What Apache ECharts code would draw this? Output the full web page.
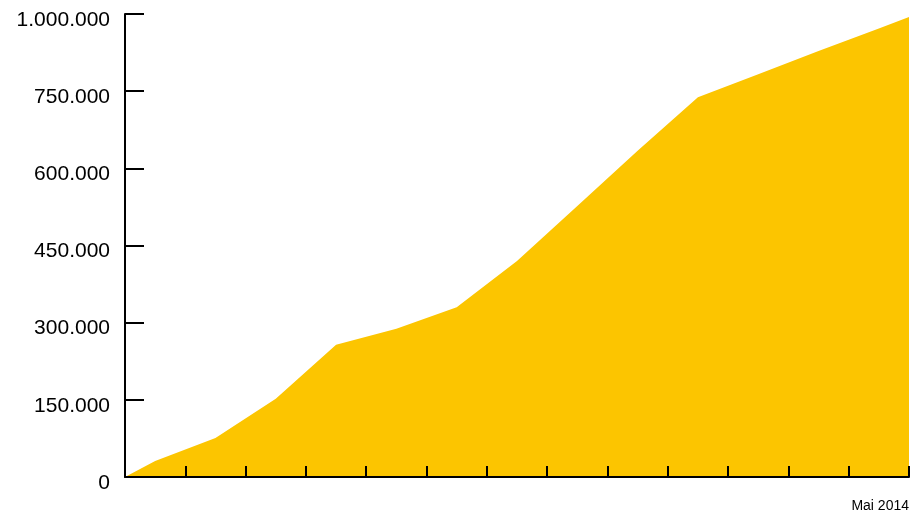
<!DOCTYPE html>
<html>
<head>
<meta charset="utf-8">
<script src="https://cdn.jsdelivr.net/npm/echarts@6/dist/echarts.min.js"></script>
<style>html,body{margin:0;padding:0;background:#fff}#c{width:912px;height:517px}</style>
</head>
<body>
<div id="c"></div>
<script>
// Positions along the time axis (category index units) and cumulative values
const xPositions = [0, 0.5, 1.5, 2.5, 3.5, 4.5, 5.5, 6.5, 7.5, 8.5, 9.5, 10.5, 11.5, 12.5, 13];
const values =     [0, 31000, 76000, 152000, 257000, 288000, 330000, 420000, 527000, 634000, 738000, 783000, 828000, 872000, 894000];
const yTickLabels = ['0', '150.000', '300.000', '450.000', '600.000', '750.000', '1.000.000'];
const xTickLabels = ['', '', '', '', '', '', '', '', '', '', '', '', '', 'Mai 2014'];

const chart = echarts.init(document.getElementById('c'), null, {renderer: 'canvas'});
chart.setOption({
  animation: false,
  grid: {left: 125, right: 2, top: 14, bottom: 40, containLabel: false},
  xAxis: {
    type: 'value', min: 0, max: 13, interval: 1, z: 5,
    axisLine: {show: true, onZero: false, lineStyle: {color: '#000', width: 2}},
    axisTick: {show: true, inside: true, length: 11, lineStyle: {color: '#000', width: 2}},
    splitLine: {show: false},
    axisLabel: {
      show: true, margin: 22, align: 'right',
      fontFamily: 'Liberation Sans, Arial, sans-serif', fontSize: 14, color: '#000',
      formatter: v => xTickLabels[Math.round(v)] || ''
    }
  },
  yAxis: {
    type: 'value', min: 0, max: 900000, interval: 150000, z: 5,
    axisLine: {show: true, lineStyle: {color: '#000', width: 2}},
    axisTick: {show: true, inside: true, length: 19, lineStyle: {color: '#000', width: 2}},
    splitLine: {show: false},
    axisLabel: {
      show: true, margin: 15,
      color: '#000',
      formatter: v => '{t|' + yTickLabels[Math.round(v / 150000)] + '}',
      rich: {
        t: {fontFamily: 'Liberation Sans, Arial, sans-serif', fontSize: 21, color: '#000', padding: [12, 0, 0, 0]}
      }
    }
  },
  series: [{
    type: 'line',
    data: xPositions.map((x, i) => [x, values[i]]),
    showSymbol: false,
    lineStyle: {width: 0},
    areaStyle: {color: '#FCC500', opacity: 1},
    z: 2
  }]
});
</script>
</body>
</html>
